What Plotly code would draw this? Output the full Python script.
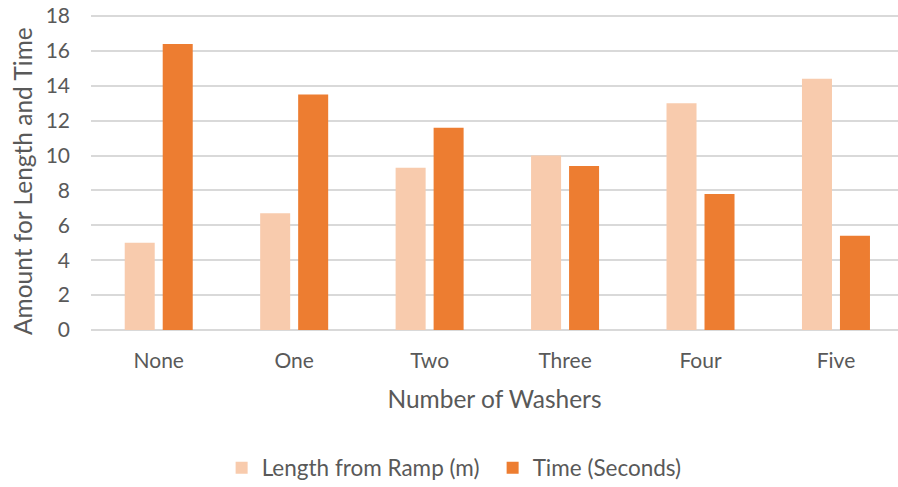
import plotly.graph_objects as go

categories = ["None", "One", "Two", "Three", "Four", "Five"]
length_from_ramp = [5.0, 6.7, 9.3, 10.0, 13.0, 14.4]
time_seconds = [16.4, 13.5, 11.6, 9.4, 7.8, 5.4]
y_ticks = [0, 2, 4, 6, 8, 10, 12, 14, 16, 18]

FONT = "Lato"
TXT = "#595959"

fig = go.Figure()
fig.add_trace(go.Bar(x=categories, y=length_from_ramp, name="Length from Ramp (m)",
                     marker=dict(color="#F8CBAD", line=dict(width=0))))
fig.add_trace(go.Bar(x=categories, y=time_seconds, name="Time (Seconds)",
                     marker=dict(color="#ED7D31", line=dict(width=0))))

fig.update_layout(
    width=898, height=487,
    margin=dict(l=91, r=0, t=11, b=157),
    paper_bgcolor="white", plot_bgcolor="white",
    barmode="group", bargap=0.439, bargroupgap=0.21,
    font=dict(family=FONT, color=TXT, size=21),
    showlegend=True,
    legend=dict(orientation="h", xref="container", yref="container",
                x=0.2468, xanchor="left", y=0.039, yanchor="middle",
                font=dict(size=22.5, color=TXT), itemwidth=30, traceorder="normal",
                entrywidth=226),
)
fig.update_xaxes(
    range=[-0.5, 5.458],
    showgrid=False, showline=False, ticks="", automargin=False,
    tickfont=dict(size=21, color=TXT), ticklabelstandoff=16,
    title=dict(text="Number of Washers", font=dict(size=24.5, color=TXT), standoff=19),
)
fig.update_yaxes(
    range=[0, 18.29], tickvals=y_ticks, showgrid=True, gridcolor="#D9D9D9", gridwidth=1.5,
    zeroline=True, zerolinecolor="#D9D9D9", zerolinewidth=1.5, automargin=False,
    showline=False, ticks="", ticklabelstandoff=20, ticklabeloverflow="allow",
    tickfont=dict(size=21, color=TXT),
)
fig.add_annotation(
    text="Amount for Length and Time", textangle=-90, showarrow=False,
    xref="paper", yref="paper", x=-0.0855, y=0.467, xanchor="center", yanchor="middle",
    font=dict(size=24.5, color=TXT, family=FONT),
)

fig.write_html(
    "out.html",
    config={"displayModeBar": False},
    post_script="document.body.style.margin='0px';document.body.style.overflow='hidden';",
)
